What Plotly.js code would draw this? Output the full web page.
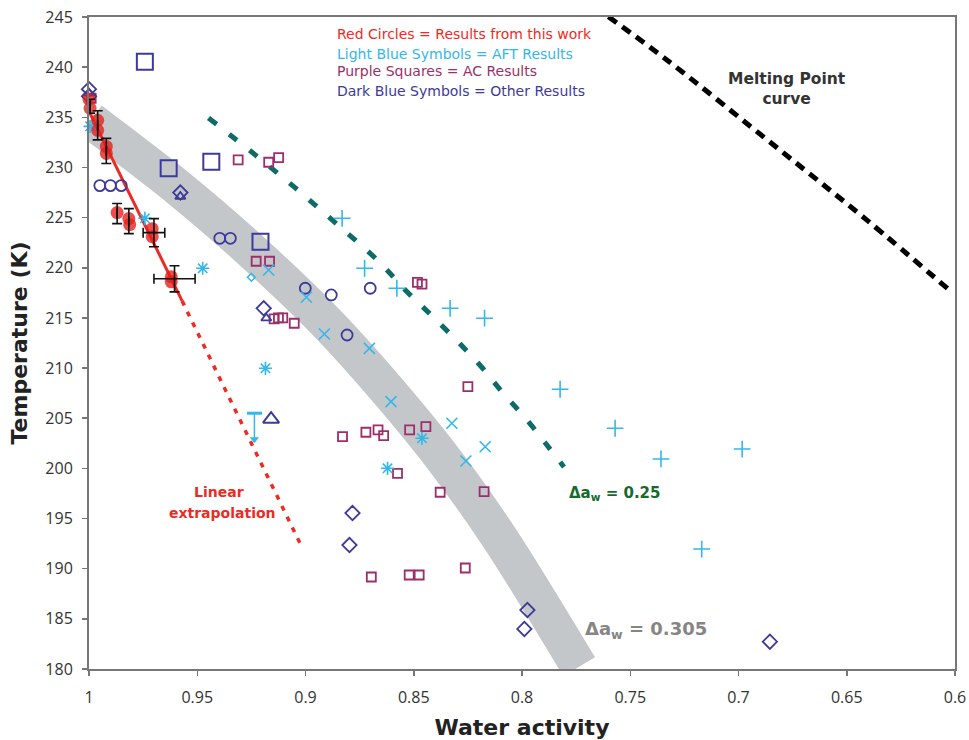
<!DOCTYPE html>
<html><head><meta charset="utf-8">
<script src="https://cdn.plot.ly/plotly-3.0.1.min.js"></script>
<style>html,body{margin:0;padding:0;background:#fff}#chart{width:969px;height:740px}</style>
</head><body><div id="chart"></div>
<script>
// ---- data (water activity, temperature K) ----
const bandAw = [0.9993, 0.9578, 0.9271, 0.8932, 0.8715, 0.8378, 0.8101, 0.7736];
const bandT  = [234.7, 227.8, 222.1, 215.16, 210.1, 201.37, 192.99, 180.23];

const tealAw = [0.9448, 0.9232, 0.9047, 0.8872, 0.8669, 0.8530, 0.8387, 0.8203, 0.8088, 0.7977, 0.7885, 0.7806];
const tealT  = [234.94, 231.25, 227.96, 224.67, 220.78, 217.59, 214.60, 210.51, 207.52, 204.83, 202.33, 200.14];

const meltAw = [0.7601, 0.7331, 0.6809, 0.6408, 0.6009];
const meltT  = [245.03, 240.72, 231.74, 224.77, 217.46];

const fitAw = [1.0, 0.957];
const fitT  = [235.6, 216.7];
const extAw = [0.957, 0.902];
const extT  = [216.7, 192.3];

const redAw = [1.0, 0.9995, 0.996, 0.996, 0.992, 0.992, 0.987, 0.9816, 0.9812, 0.9708, 0.9708, 0.962, 0.962];
const redT  = [236.8, 235.9, 234.7, 233.7, 232.1, 231.4, 225.5, 224.9, 224.3, 223.9, 223.1, 219.1, 218.6];

const errAw = [0.9995, 0.996, 0.992, 0.987, 0.9816, 0.970, 0.9605];
const errT  = [236.1, 234.2, 231.65, 225.4, 224.65, 223.5, 218.9];
const errTy = [0.7, 1.45, 1.25, 1.0, 1.25, 1.4, 1.3];
const errAx = [0, 0, 0, 0, 0, 0.005, 0.0095];

const dbSqAw = [0.9742, 0.9632, 0.9435, 0.9208];
const dbSqT  = [240.55, 229.92, 230.58, 222.6];
const dbCircAw = [0.995, 0.9901, 0.9851, 0.9396, 0.9347, 0.9001, 0.8881, 0.8701, 0.8808];
const dbCircT  = [228.19, 228.19, 228.19, 222.94, 222.94, 217.96, 217.29, 217.96, 213.3];
const dbDiaAw = [1.0, 1.0, 0.9578, 0.9193, 0.8783, 0.8797, 0.7975, 0.7989, 0.6855];
const dbDiaT  = [237.8, 237.1, 227.5, 215.96, 195.55, 192.36, 185.88, 183.99, 182.72];
const dbTriAw = [1.0, 0.9578, 0.9181];
const dbTriT  = [237.4, 227.1, 214.97];
const dbBigTriAw = [0.9159];
const dbBigTriT  = [204.9];

const cyAstAw = [0.9995, 0.9742, 0.9475, 0.9185, 0.8462, 0.8621];
const cyAstT  = [234.1, 224.93, 219.95, 209.98, 203.0, 200.01];
const cyXAw = [0.917, 0.8996, 0.8913, 0.8705, 0.8605, 0.8324, 0.817, 0.8259];
const cyXT  = [219.78, 217.06, 213.4, 211.97, 206.65, 204.5, 202.16, 200.74];
const cyPlusAw = [0.8831, 0.8727, 0.8578, 0.8332, 0.8173, 0.7824, 0.757, 0.7358, 0.6983, 0.717];
const cyPlusT  = [224.93, 219.95, 217.96, 215.96, 214.97, 207.89, 204.0, 200.94, 201.93, 191.96];
const cyDiaAw = [0.925];
const cyDiaT  = [219.05];
const cyBoundAw = [0.927, 0.920];
const cyBoundT  = [205.5, 205.5];
const cyStemAw = [0.9236, 0.9236];
const cyStemT  = [205.5, 203.0];
const cyTipAw = [0.9236];
const cyTipT  = [202.9];

const acAw = [0.999, 0.9311, 0.917, 0.9124, 0.9228, 0.9166, 0.9145, 0.9125, 0.9105, 0.9052, 0.8829, 0.8721, 0.8665, 0.8639, 0.8519, 0.8444, 0.8483, 0.8462, 0.825, 0.8575, 0.8378, 0.8175, 0.8696, 0.8521, 0.8475, 0.8262];
const acT  = [236.9, 230.75, 230.52, 230.98, 220.65, 220.65, 214.9, 215.0, 215.0, 214.47, 203.16, 203.6, 203.83, 203.26, 203.83, 204.16, 218.55, 218.36, 208.15, 199.51, 197.62, 197.68, 189.17, 189.37, 189.37, 190.07];

const xTicks = [1, 0.95, 0.9, 0.85, 0.8, 0.75, 0.7, 0.65, 0.6];
const xTickText = ['1', '0.95', '0.9', '0.85', '0.8', '0.75', '0.7', '0.65', '0.6'];

// ---- colours ----
const DB = '#3d3a9a', CY = '#33b8ea', PU = '#9c2f6b', RED = '#ee2a24', TEAL = '#0e6b68';

const traces = [
  {x: bandAw, y: bandT, mode: 'lines', line: {color: '#c4c7c9', width: 37, shape: 'spline', smoothing: 0.8}, hoverinfo: 'skip'},
  {x: tealAw, y: tealT, mode: 'lines', line: {color: TEAL, width: 5, dash: '10px,16px', shape: 'spline'}},
  {x: meltAw, y: meltT, mode: 'lines', line: {color: '#000', width: 5, dash: '10px,7px', shape: 'spline'}},
  {x: extAw, y: extT, mode: 'lines', line: {color: RED, width: 3.5, dash: '5px,7px'}},
  {x: fitAw, y: fitT, mode: 'lines', line: {color: RED, width: 3}},
  {x: acAw, y: acT, mode: 'markers', cliponaxis: false, marker: {symbol: 'square-open', size: 9, color: PU, line: {width: 1.8, color: PU}}},
  {x: dbSqAw, y: dbSqT, mode: 'markers', marker: {symbol: 'square-open', size: 16, color: DB, line: {width: 2, color: DB}}},
  {x: dbCircAw, y: dbCircT, mode: 'markers', marker: {symbol: 'circle-open', size: 11, color: DB, line: {width: 1.8, color: DB}}},
  {x: dbDiaAw, y: dbDiaT, mode: 'markers', cliponaxis: false, marker: {symbol: 'diamond-open', size: 11, color: DB, line: {width: 1.8, color: DB}}},
  {x: dbTriAw, y: dbTriT, mode: 'markers', cliponaxis: false, marker: {symbol: 'triangle-up-open', size: 9, color: DB, line: {width: 1.8, color: DB}}},
  {x: dbBigTriAw, y: dbBigTriT, mode: 'markers', marker: {symbol: 'triangle-up-open', size: 14, color: DB, line: {width: 2, color: DB}}},
  {x: cyAstAw, y: cyAstT, mode: 'markers', cliponaxis: false, marker: {symbol: 'asterisk-open', size: 11, color: CY, line: {width: 1.6, color: CY}}},
  {x: cyXAw, y: cyXT, mode: 'markers', marker: {symbol: 'x-thin-open', size: 11, color: CY, line: {width: 1.6, color: CY}}},
  {x: cyPlusAw, y: cyPlusT, mode: 'markers', marker: {symbol: 'cross-thin-open', size: 12, color: CY, line: {width: 1.6, color: CY}}},
  {x: cyDiaAw, y: cyDiaT, mode: 'markers', marker: {symbol: 'diamond-open', size: 6, color: CY, line: {width: 1.5, color: CY}}},
  {x: cyBoundAw, y: cyBoundT, mode: 'lines', line: {color: CY, width: 3}},
  {x: cyStemAw, y: cyStemT, mode: 'lines', line: {color: CY, width: 1.5}},
  {x: cyTipAw, y: cyTipT, mode: 'markers', marker: {symbol: 'triangle-down', size: 8, color: CY}},
  {x: redAw, y: redT, mode: 'markers', cliponaxis: false, marker: {symbol: 'circle', size: 13, color: 'rgba(230,30,26,0.78)', line: {width: 0}}},
  {x: errAw, y: errT, mode: 'markers', cliponaxis: false, marker: {size: 1, color: 'rgba(0,0,0,0)'},
   error_y: {type: 'data', array: errTy, color: '#111', thickness: 1.6, width: 5},
   error_x: {type: 'data', array: errAx, color: '#111', thickness: 1.6, width: 5}}
];

const ann = (x, y, text, color, size, opts) => Object.assign({x: x, y: y, xref: 'x', yref: 'y', text: text, showarrow: false,
  font: {family: 'DejaVu Sans', size: size, color: color}}, opts || {});

const annotations = [
  ann(0.8862, 243.27, 'Red Circles = Results from this work', RED, 14, {xanchor: 'left'}),
  ann(0.8862, 241.28, 'Light Blue Symbols = AFT Results', CY, 14, {xanchor: 'left'}),
  ann(0.8862, 239.62, 'Purple Squares = AC Results', PU, 14, {xanchor: 'left'}),
  ann(0.8862, 237.66, 'Dark Blue Symbols = Other Results', DB, 14, {xanchor: 'left'}),
  ann(0.6778, 237.78, '<b>Melting Point<br>curve</b>', '#333', 15.5),
  ann(0.9401, 197.68, '<b>Linear</b>', RED, 14),
  ann(0.9384, 195.52, '<b>extrapolation</b>', RED, 14),
  ann(0.7793, 197.5, '<b>Δa<sub>w</sub> = 0.25</b>', '#17692c', 15, {xanchor: 'left'}),
  ann(0.7716, 183.9, '<b>Δa<sub>w</sub> = 0.305</b>', '#858585', 18, {xanchor: 'left'})
];

const layout = {
  width: 969, height: 740,
  margin: {l: 88.5, r: 14, t: 17, b: 71},
  paper_bgcolor: '#fff', plot_bgcolor: '#fff',
  showlegend: false,
  font: {family: 'Open Sans', size: 16, color: '#333'},
  xaxis: {range: [1, 0.6], autorange: false, tickvals: xTicks, ticktext: xTickText,
    showgrid: false, zeroline: false, showline: true, linecolor: '#777', linewidth: 2, mirror: true,
    ticks: 'outside', ticklen: 5, tickwidth: 1.5, tickcolor: '#777', ticklabelstandoff: 8,
    tickfont: {family: 'Open Sans', size: 16, color: '#333'},
    title: {text: 'Water activity', standoff: 14, font: {family: 'DejaVu Sans', size: 22, color: '#222', weight: 'bold'}}},
  yaxis: {range: [180, 245], autorange: false, dtick: 5, tick0: 180,
    showgrid: false, zeroline: false, showline: true, linecolor: '#777', linewidth: 2, mirror: true,
    ticks: 'outside', ticklen: 5, tickwidth: 1.5, tickcolor: '#777', ticklabelstandoff: 6,
    tickfont: {family: 'Open Sans', size: 16, color: '#333'},
    title: {text: 'Temperature (K)', standoff: 12, font: {family: 'DejaVu Sans', size: 22, color: '#222', weight: 'bold'}}},
  annotations: annotations
};

Plotly.newPlot('chart', traces, layout, {displayModeBar: false, staticPlot: true});
</script>
</body></html>
